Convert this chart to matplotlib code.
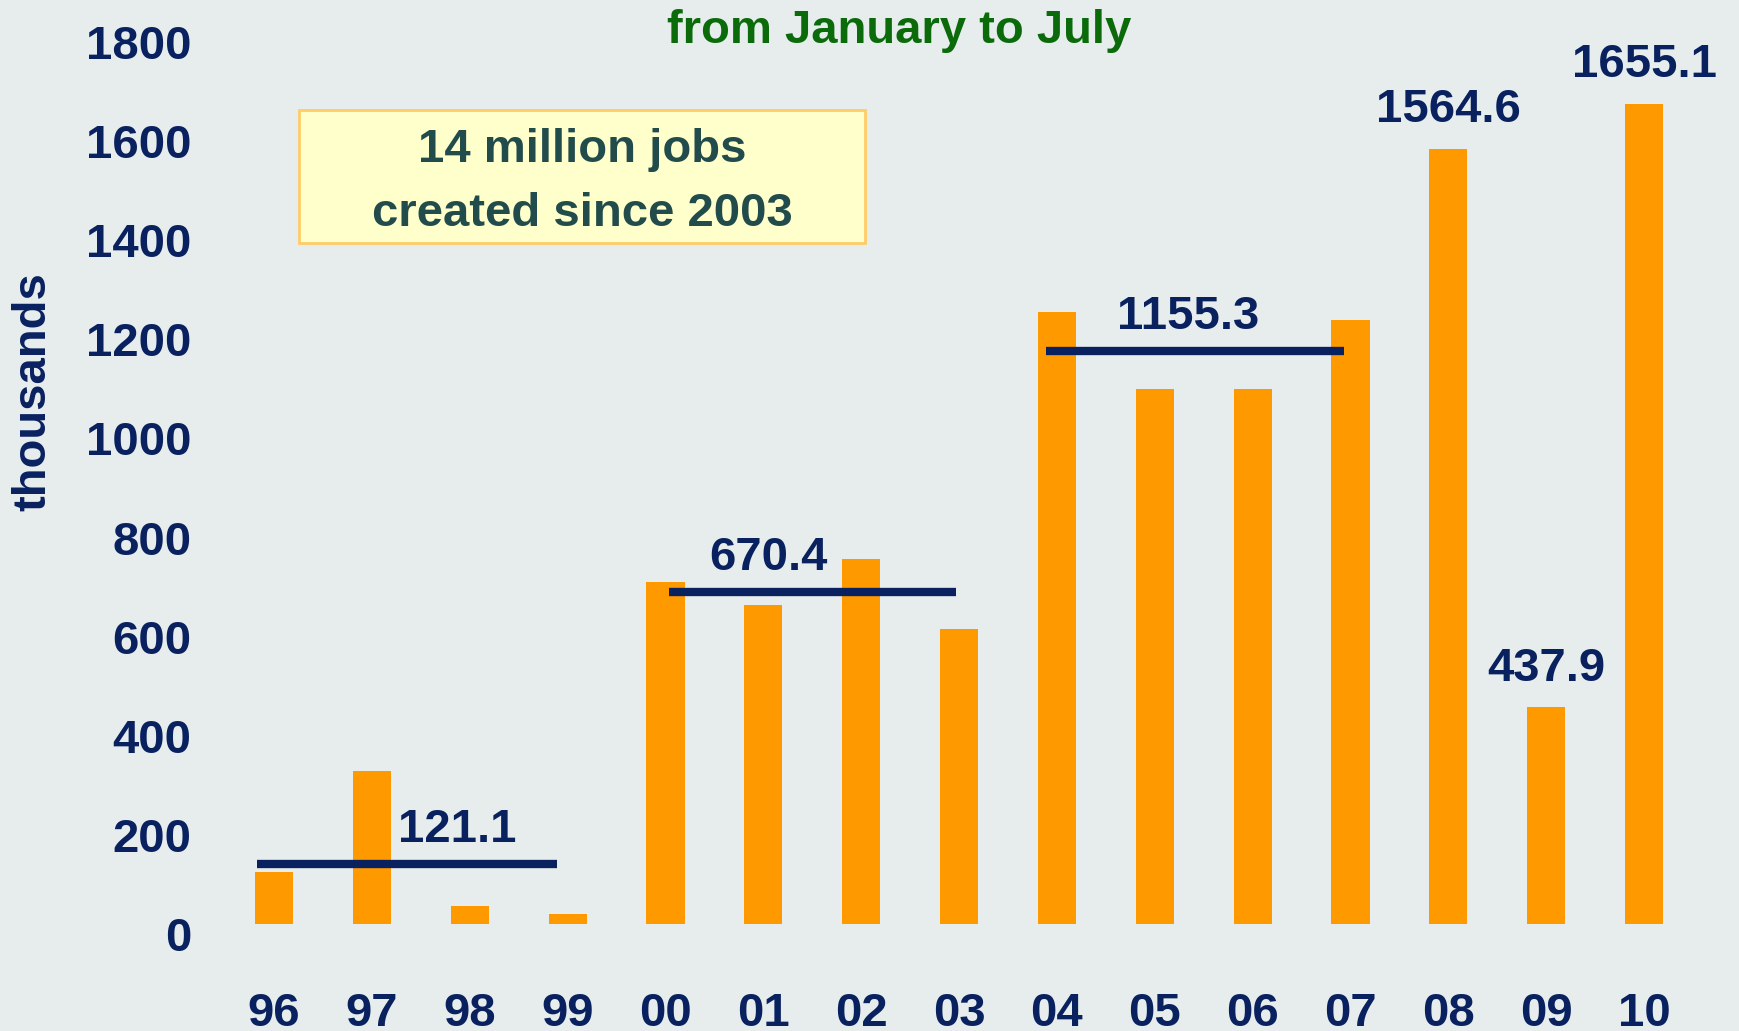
import matplotlib
matplotlib.use("Agg")
import matplotlib.pyplot as plt
import matplotlib.transforms as mtransforms
from matplotlib.patches import Rectangle

# ---- data ----
years = ["96", "97", "98", "99", "00", "01", "02", "03",
         "04", "05", "06", "07", "08", "09", "10"]
jobs = [105, 309, 36, 20, 690, 643, 737, 596,
        1234, 1080, 1080, 1218, 1564.6, 437.9, 1655.1]
labeled_idx = [12, 13, 14]
avg_values = [121.1, 670.4, 1155.3]
y_ticks = [0, 200, 400, 600, 800, 1000, 1200, 1400, 1600, 1800]

# ---- layout / style ----
avg_spans = [(-0.17, 2.89), (4.04, 6.97), (7.89, 10.93)]
avg_label_x = [1.87, 5.05, 9.34]
NAVY = "#0A2160"
ORANGE = "#FF9900"
GREEN = "#0B6B0B"
BG = "#E7EDED"
FONT = ["Liberation Sans", "DejaVu Sans"]
FS = 34

plt.rcParams["font.family"] = FONT
plt.rcParams["font.weight"] = "bold"

fig = plt.figure(figsize=(17.39, 10.31), dpi=100)
fig.patch.set_facecolor(BG)

ax = fig.add_axes([0.1182, 0.1038, 0.8666, 0.8652])
ax.set_facecolor("none")
x = list(range(len(years)))
ax.bar(x, jobs, width=0.39, color=ORANGE, zorder=2)
ax.set_xlim(-0.7, 14.7)
ax.set_ylim(0, 1800)
for s in ax.spines.values():
    s.set_visible(False)
ax.set_yticks(y_ticks)
ax.set_yticklabels([str(t) for t in y_ticks])
ax.set_xticks(x)
ax.set_xticklabels(years)
ax.tick_params(axis="both", length=0, labelsize=FS, labelcolor=NAVY)
ax.tick_params(axis="x", pad=49)
ax.tick_params(axis="y", pad=10)
for lab in ax.get_xticklabels():
    lab.set_fontweight("bold")

off = mtransforms.ScaledTranslation(0, -10 / 100, fig.dpi_scale_trans)
for lab in ax.get_yticklabels():
    lab.set_fontweight("bold")
    lab.set_transform(lab.get_transform() + off)
    lab.set_verticalalignment("center_baseline")

# average lines
for (x0, x1), v, lx in zip(avg_spans, avg_values, avg_label_x):
    ax.plot([x0, x1], [v, v], color=NAVY, lw=6, solid_capstyle="butt", zorder=3)
    ax.annotate(f"{v:.1f}", xy=(lx, v), xytext=(0, 16), textcoords="offset points",
                ha="center", va="baseline", fontsize=FS, fontweight="bold",
                color=NAVY, zorder=4, annotation_clip=False)

# bar labels
for i in labeled_idx:
    ax.annotate(f"{jobs[i]:.1f}", xy=(x[i], jobs[i]), xytext=(0, 19),
                textcoords="offset points", ha="center", va="baseline",
                fontsize=FS, fontweight="bold", color=NAVY, annotation_clip=False)

# title
fig.text(0.517, 0.958, "from January to July", ha="center", va="baseline",
         fontsize=FS, fontweight="bold", color=GREEN)

# y label
fig.text(0.019, 0.620, "thousands", rotation=90, ha="center", va="center",
         fontsize=FS, fontweight="bold", color=NAVY)

# note box
fig.patches.append(Rectangle((0.1719, 0.7643), 0.3255, 0.129, transform=fig.transFigure,
                             facecolor="#FFFFCC", edgecolor="#FFCC66", lw=2, zorder=5))
fig.text(0.3347, 0.8429, "14 million jobs", ha="center", va="baseline",
         fontsize=FS, fontweight="bold", color="#224B4B", zorder=6)
fig.text(0.3347, 0.7808, "created since 2003", ha="center", va="baseline",
         fontsize=FS, fontweight="bold", color="#224B4B", zorder=6)

fig.savefig("out.png", dpi=100, facecolor=BG)
